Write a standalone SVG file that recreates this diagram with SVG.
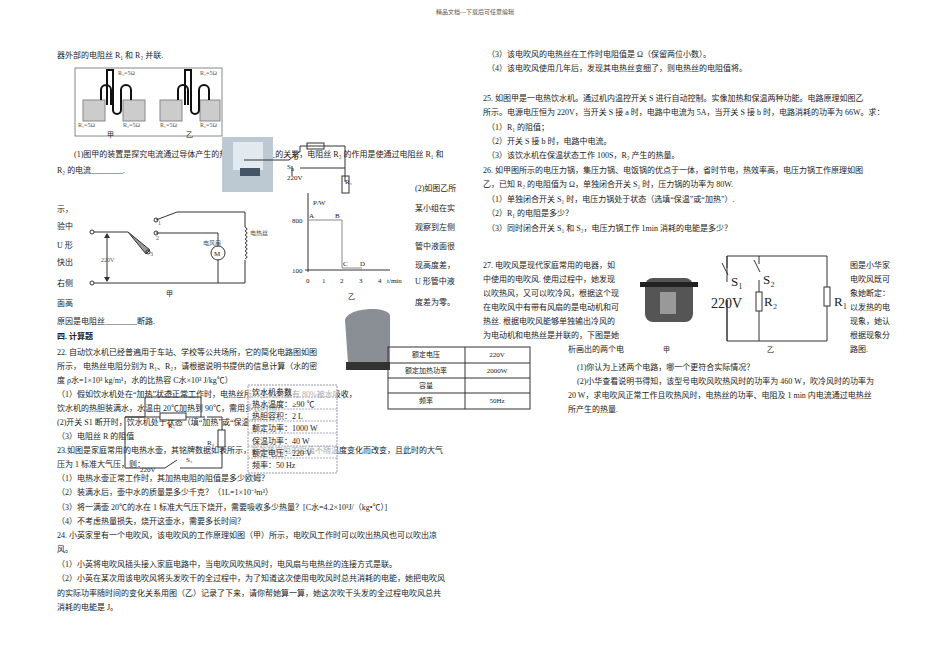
<svg xmlns="http://www.w3.org/2000/svg" width="950" height="672" viewBox="0 0 950 672">
<style>
text{font-family:"Liberation Serif","Noto Sans CJK SC",serif;font-size:8px;fill:#222}
.s{font-size:7px}.h{font-size:6px;fill:#555}.b{font-weight:bold}
.l{stroke:#333;stroke-width:1;fill:none}.g{stroke:#888;stroke-width:1;fill:none}
</style>
<rect width="950" height="672" fill="#fff"/>
<text x="475" y="14" class="h" text-anchor="middle">精品文档---下载后可任意编辑</text>
<g id="left-text">
<text x="57" y="58">器外部的电阻丝 R₁ 和 R₂ 并联.</text>
<text x="74" y="157">(1)图甲的装置是探究电流通过导体产生的热量与________的关系，电阻丝 R₃ 的作用是使通过电阻丝 R₁ 和</text>
<text x="57" y="173">R₂ 的电流________.</text>
<text x="57" y="212">示，</text><text x="57" y="229">验中</text><text x="57" y="248">U 形</text><text x="57" y="265">快出</text><text x="57" y="286">右侧</text><text x="57" y="306">面高</text>
<text x="57" y="324">原因是电阻丝________断路.</text>
<text x="415" y="191">(2)如图乙所</text><text x="415" y="211">某小组在实</text><text x="415" y="230">观察到左侧</text><text x="415" y="249">管中液面很</text><text x="415" y="268">现高度差，</text><text x="415" y="284">U 形管中液</text><text x="415" y="305">度差为零。</text>
<text x="57" y="339" class="b">四. 计算题</text>
<text x="57" y="355">22. 自动饮水机已经普遍用于车站、学校等公共场所，它的简化电路图如图</text>
<text x="57" y="369">所示， 电热丝电阻分别为 R₁、R₂，请根据说明书提供的信息计算（水的密</text>
<text x="57" y="383">度 ρ水=1×10³ kg/m³，水的比热容 C水×10³ J/kg℃）</text>
<text x="57" y="397">（1）假如饮水机处在“加热”状态正常工作时，电热丝所产生的热量有 80%被水吸收，</text>
<text x="57" y="411">饮水机的热胆装满水，水温由 20℃加热到 90℃，需用多长时间？</text>
<text x="57" y="425">(2)开关 S1 断开时，饮水机处于状态（填“加热”或“保温”）</text>
<text x="57" y="439">（3）电阻丝 R 的阻值</text>
<text x="57" y="453">23.如图是家庭常用的电热水壶，其铭牌数据如表所示，若加热电阻的阻值不随温度变化而改变，且此时的大气</text>
<text x="57" y="467">压为 1 标准大气压，则：</text>
<text x="57" y="481">（1）电热水壶正常工作时，其加热电阻的阻值是多少欧姆？</text>
<text x="57" y="495">（2）装满水后，壶中水的质量是多少千克？（1L=1×10⁻³m³）</text>
<text x="57" y="510">（3）将一满壶 20℃的水在 1 标准大气压下烧开，需要吸收多少热量？[C水=4.2×10³J/（kg•℃）]</text>
<text x="57" y="524">（4）不考虑热量损失，烧开这壶水，需要多长时间？</text>
<text x="57" y="538">24. 小英家里有一个电吹风，该电吹风的工作原理如图（甲）所示，电吹风工作时可以吹出热风也可以吹出凉</text>
<text x="57" y="552">风。</text>
<text x="57" y="567">（1）小英将电吹风插头接入家庭电路中，当电吹风吹热风时，电风扇与电热丝的连接方式是联。</text>
<text x="57" y="581">（2）小英在某次用该电吹风将头发吹干的全过程中，为了知道这次使用电吹风时总共消耗的电能，她把电吹风</text>
<text x="57" y="596">的实际功率随时间的变化关系用图（乙）记录了下来，请你帮她算一算，她这次吹干头发的全过程电吹风总共</text>
<text x="57" y="610">消耗的电能是 J。</text>
</g>
<g id="right-text">
<text x="487" y="57">（3）该电吹风的电热丝在工作时电阻值是 Ω（保留两位小数）。</text>
<text x="487" y="71">（4）该电吹风使用几年后，发现其电热丝变细了，则电热丝的电阻值将。</text>
<text x="483" y="101">25. 如图甲是一电热饮水机。通过机内温控开关 S 进行自动控制。实像加热和保温两种功能。电路原理如图乙</text>
<text x="483" y="115">所示。电源电压恒为 220V，当开关 S 接 a 时，电路中电流为 5A，当开关 S 接 b 时，电路消耗的功率为 66W。求：</text>
<text x="487" y="130">（1）R₁ 的阻值；</text>
<text x="487" y="144">（2）开关 S 接 b 时，电路中电流。</text>
<text x="487" y="158">（3）该饮水机在保温状态工作 100S，R₂ 产生的热量。</text>
<text x="483" y="173">26. 如甲图所示的电压力锅，集压力锅、电饭锅的优点于一体，省时节电，热效率高，电压力锅工作原理如图</text>
<text x="483" y="187">乙，已知 R₂ 的电阻值为 Ω，单独闭合开关 S₁ 时，压力锅的功率为 80W.</text>
<text x="487" y="202">（1）单独闭合开关 S₁ 时，电压力锅处于状态（选填“保温”或“加热”）.</text>
<text x="487" y="216">（2）R₁ 的电阻是多少？</text>
<text x="487" y="231">（3）同时闭合开关 S₁ 和 S₂，电压力锅工作 1min 消耗的电能是多少？</text>
<text x="483" y="268">27. 电吹风是现代家庭常用的电器，如</text>
<text x="483" y="282">中使用的电吹风. 使用过程中，她发现</text>
<text x="483" y="296">以吹热风，又可以吹冷风，根据这个现</text>
<text x="483" y="310">在电吹风中有带有风扇的是电动机和可</text>
<text x="483" y="324">热丝. 根据电吹风能够单独输出冷风的</text>
<text x="483" y="338">为电动机和电热丝是并联的，下图是她</text>
<text x="568" y="352">析画出的两个电</text>
<text x="850" y="268">图是小华家</text><text x="850" y="282">电吹风既可</text><text x="850" y="296">象她断定：</text><text x="850" y="310">以发热的电</text><text x="850" y="324">现象，她认</text><text x="850" y="338">根据现象分</text><text x="850" y="352">路图.</text>
<text x="577" y="370">(1)你认为上述两个电路，哪一个更符合实际情况？</text>
<text x="577" y="384">(2)小华查看说明书得知，该型号电吹风吹热风时的功率为 460 W，吹冷风时的功率为</text>
<text x="568" y="398">20 W，求电吹风正常工作且吹热风时，电热丝的功率、电阻及 1 min 内电流通过电热丝</text>
<text x="568" y="412">所产生的热量.</text>
</g>
<g id="fig-u-tube">
<rect x="75" y="68" width="147" height="68" class="g"/>
<rect x="83" y="100" width="22" height="21" fill="#ccc" stroke="#888"/><rect x="123" y="100" width="22" height="21" fill="#ccc" stroke="#888"/>
<rect x="160" y="100" width="22" height="21" fill="#ccc" stroke="#888"/><rect x="200" y="100" width="20" height="21" fill="#ccc" stroke="#888"/>
<path d="M101,100v-10a5,5 0 0 1 10,0v15M107,105V70h6v40M113,110a4,4 0 0 0 8,0v-20a5,5 0 0 1 10,0v10" stroke="#111" stroke-width="2" fill="none"/>
<path d="M178,100v-10a5,5 0 0 1 10,0v15M185,105V70h6v40M191,110a4,4 0 0 0 8,0v-20a5,5 0 0 1 10,0v10" stroke="#111" stroke-width="2" fill="none"/>
<text x="118" y="75" class="h">R₃=5Ω</text><text x="200" y="75" class="h">R₃=5Ω</text>
<text x="78" y="127" class="h">R₁=5Ω</text><text x="123" y="127" class="h">R₂=5Ω</text><text x="160" y="127" class="h">R₁=5Ω</text><text x="200" y="127" class="h">R₂=5Ω</text>
<text x="107" y="137" class="s">甲</text><text x="186" y="137" class="s">乙</text>
</g>
<g id="photo-dispenser"><rect x="222" y="137" width="51" height="55" fill="#bcc9d2"/><rect x="233" y="142" width="30" height="28" fill="#e3eaef"/><rect x="240" y="168" width="20" height="8" fill="#456"/></g>
<g id="circuit-25">
<path d="M244,160h45l10,-8M292,152h8v-6h45v22M300,168h45v14M292,176v-10" class="l"/>
<rect x="307" y="143" width="17" height="6" class="l"/><rect x="342" y="176" width="7" height="17" class="l"/>
<text x="287" y="180" class="s">220V</text><text x="345" y="184" class="s">R₁</text><text x="294" y="160">b</text><text x="287" y="169" class="s">S</text><text x="291" y="171" class="s">a</text>
</g>
<g id="circuit-fan">
<circle cx="92" cy="232" r="2" class="l"/><circle cx="92" cy="283" r="2" class="l"/>
<path d="M94,232h34M94,283h151V260M218,283V260M156,220l21,-8h68v15M156,233h62v13" class="l"/>
<path d="M128,232l22,18l-4,4z" fill="#999" stroke="#333"/>
<path d="M107,234v47" class="l"/><path d="M104,238l3,-5l3,5M104,277l3,5l3,-5" fill="#333"/>
<path d="M245,227q4,2 0,4q4,2 0,4q4,2 0,4q4,2 0,4q4,2 0,4q4,2 0,4q4,2 0,4q4,2 0,4" class="l"/>
<circle cx="156" cy="220" r="2" class="l"/><circle cx="156" cy="233" r="2" class="l"/><circle cx="148" cy="252" r="2" class="l"/>
<circle cx="218" cy="253" r="7" class="l"/><text x="214" y="256" class="s">M</text>
<text x="158" y="225" class="h">1</text><text x="156" y="240" class="h">2</text><text x="150" y="256" class="h">3</text>
<text x="101" y="262" class="h">220V</text><text x="166" y="296" class="s">甲</text>
<text x="203" y="245" class="h">电风扇</text><text x="250" y="235" class="h">电热丝</text>
</g>
<g id="graph-p-t">
<path d="M308,272V193M305,270h85" class="l"/><path d="M308,220h34v48h20" stroke="#888" fill="none"/>
<text x="313" y="205" class="s">P/W</text><text x="292" y="223" class="s">800</text><text x="292" y="273" class="s">100</text>
<text x="309" y="218" class="s">A</text><text x="335" y="218" class="s">B</text><text x="343" y="266" class="s">C</text><text x="360" y="266" class="s">D</text>
<text x="306" y="283" class="s">0</text><text x="322" y="283" class="s">1</text><text x="340" y="283" class="s">2</text><text x="359" y="283" class="s">3</text><text x="378" y="283" class="s">4</text><text x="387" y="283" class="s">t/min</text><text x="348" y="299" class="s">乙</text>
</g>
<g id="photo-kettle"><path d="M345,320c2,-12 40,-15 45,-5v48h-42z" fill="#8a8f96"/><rect x="346" y="362" width="44" height="8" fill="#333"/></g>
<g id="table-23">
<rect x="388" y="347" width="142" height="62" class="l"/>
<path d="M388,363h142M388,378h142M388,393h142M465,347v62" class="l"/>
<text x="426" y="357" class="s" text-anchor="middle">额定电压</text><text x="426" y="373" class="s" text-anchor="middle">额定加热功率</text><text x="426" y="388" class="s" text-anchor="middle">容量</text><text x="426" y="403" class="s" text-anchor="middle">频率</text>
<text x="497" y="357" class="s" text-anchor="middle">220V</text><text x="497" y="373" class="s" text-anchor="middle">2000W</text><text x="497" y="403" class="s" text-anchor="middle">50Hz</text>
</g>
<g id="circuit-22">
<path d="M125,468V417h80M222,468V417M222,417h-15M125,468h40l12,-8M180,468h42M145,397h56v20M125,417h20v-20" class="l"/>
<rect x="160" y="413" width="26" height="7" fill="#fff" stroke="#333"/><rect x="218" y="430" width="7" height="17" fill="#fff" stroke="#333"/>
<text x="168" y="428" class="s">R₁</text><text x="207" y="445" class="s">R₂</text><text x="140" y="472" class="s">220V</text><text x="186" y="462" class="s">S₂</text><text x="168" y="394" class="s">S₁</text>
</g>
<g id="spec-box">
<rect x="248" y="385" width="89" height="88" fill="#fff" fill-opacity="0.6" stroke="#99a" stroke-dasharray="2,1"/>
<path d="M248,397h89M248,409h89M248,421h89M248,433h89M248,446h89M248,458h89" stroke="#aab" stroke-dasharray="2,1"/>
<text x="252" y="395">饮水机参数</text><text x="252" y="407">热水温度：≥90 ℃</text><text x="252" y="419">热胆容积：2 L</text><text x="252" y="431">额定功率：1000 W</text><text x="252" y="444">保温功率：40 W</text><text x="252" y="456">额定电压：220 V</text><text x="252" y="468">频率：50 Hz</text>
</g>
<g id="photo-cooker"><rect x="645" y="278" width="48" height="44" rx="8" fill="#555"/><rect x="640" y="282" width="58" height="5" fill="#222"/><rect x="660" y="292" width="16" height="22" fill="#999"/></g>
<g id="circuit-26">
<path d="M727,256h100v85h-100zM727,256v12M727,300v41M759,256v8M759,280v61" class="l" fill="none"/>
<path d="M722,263l6,12M754,260l6,12" class="l"/>
<rect x="756" y="292" width="6" height="19" fill="#fff" stroke="#333"/><rect x="824" y="287" width="6" height="19" fill="#fff" stroke="#333"/>
<rect x="720" y="282" width="14" height="18" fill="#fff"/>
<text x="731" y="286" style="font-size:13px">S₁</text><text x="763" y="284" style="font-size:13px">S₂</text><text x="711" y="308" style="font-size:14px">220V</text><text x="764" y="306" style="font-size:13px">R₂</text><text x="834" y="306" style="font-size:13px">R₁</text>
<text x="663" y="352" class="s">甲</text><text x="767" y="352" class="s">乙</text>
</g>
</svg>
